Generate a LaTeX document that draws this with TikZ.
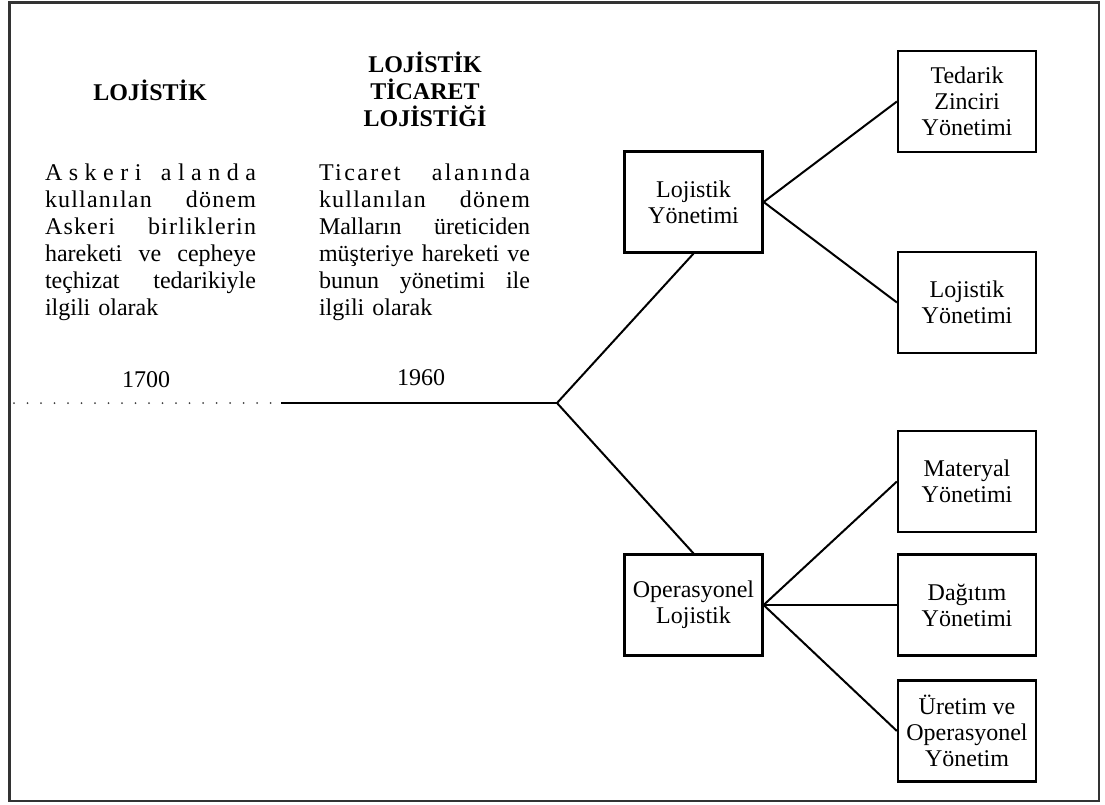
\documentclass[tikz,border=0pt]{standalone}
\usepackage{fontspec}
\setmainfont{Liberation Serif}
\tikzset{
  unitbox/.style={draw,line width=2.2pt,minimum width=138pt,minimum height=101pt,inner sep=2pt,align=center,font=\fontsize{24}{26}\selectfont},
  heading/.style={align=center,font=\fontsize{24}{27}\selectfont\bfseries},
  desc/.style={text width=211pt,inner sep=0pt,align=left,font=\fontsize{24}{27}\selectfont},
  yearlabel/.style={font=\fontsize{24}{27}\selectfont},
  link/.style={line width=2pt}
}
\newcommand{\fullline}[1]{\makebox[211pt][s]{#1}}
\newcommand{\spaced}[1]{\addfontfeature{LetterSpace=#1}}

\begin{document}
\begin{tikzpicture}[x=1pt,y=-1pt]
\useasboundingbox (0,0) rectangle (1105,805);
\draw[line width=2.8pt,black!80] (9.5,2.5) rectangle (1099,801);

\node[heading] (lojistik) at (150,90) {LOJİSTİK};
\node[heading] (ticaret) at (425,89) {LOJİSTİK\\TİCARET\\LOJİSTİĞİ};

\node[desc] (askeri) at (150.5,242) {%
\fullline{A\hfil s\hfil k\hfil e\hfil r\hfil i\hfil\hfil\hfil a\hfil l\hfil a\hfil n\hfil d\hfil a}\\
\fullline{\spaced{5}kullanılan\hfill dönem}\\
\fullline{\spaced{5}Askeri\hfill birliklerin}\\
\fullline{hareketi\hfill ve\hfill cepheye}\\
\fullline{teçhizat\hfill tedarikiyle}\\
ilgili olarak};
\node[desc] (ticari) at (424.5,242) {%
\fullline{\spaced{10}Ticaret\hfill alanında}\\
\fullline{\spaced{5}kullanılan\hfill dönem}\\
\fullline{Malların\hfill üreticiden}\\
\fullline{müşteriye\hfill hareketi\hfill ve}\\
\fullline{bunun\hfill yönetimi\hfill ile}\\
ilgili olarak};

\node[yearlabel] (y1700) at (146,380) {1700};
\node[yearlabel] (y1960) at (421,378) {1960};

\node[unitbox] (lyon) at (693.5,202) {Lojistik\\Yönetimi};
\node[unitbox] (tedarik) at (967,101.5) {Tedarik\\Zinciri\\Yönetimi};
\node[unitbox] (lyon2) at (967,302.5) {Lojistik\\Yönetimi};
\node[unitbox] (opl) at (693.5,605) {Operasyonel\\Lojistik};
\node[unitbox] (materyal) at (967,481.5) {Materyal\\Yönetimi};
\node[unitbox] (dagitim) at (967,605) {Dağıtım\\Yönetimi};
\node[unitbox] (uretim) at (967,731) {Üretim ve\\Operasyonel\\Yönetim};

\coordinate (dotstart) at (14,403);
\coordinate (dotend) at (272,403);
\coordinate (linestart) at (281,403);
\coordinate (fork) at (557,403);

\draw[line width=2pt,line cap=round,black!75,dash pattern=on 0pt off 13.5pt] (dotstart) -- (dotend);
\draw[link] (linestart) -- (fork);
\draw[link] (lyon.south) -- (fork) -- (opl.north);
\draw[link] (lyon.east) -- (tedarik.west);
\draw[link] (lyon.east) -- (lyon2.west);
\draw[link] (opl.east) -- (materyal.west);
\draw[link] (opl.east) -- (dagitim.west);
\draw[link] (opl.east) -- (uretim.west);
\end{tikzpicture}
\end{document}
